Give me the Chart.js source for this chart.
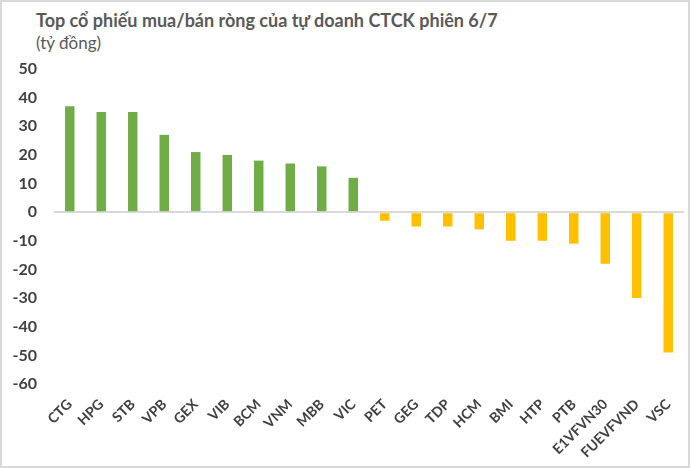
<!DOCTYPE html>
<html>
<head>
<meta charset="utf-8">
<script src="https://cdn.jsdelivr.net/npm/chart.js@4.4.1/dist/chart.umd.min.js"></script>
<style>
  html, body { margin: 0; padding: 0; background: #fff; }
  #wrap { position: relative; width: 690px; height: 468px; box-sizing: border-box; border: 2px solid #d9d9d9; overflow: hidden; }
  #title { position: absolute; left: 34px; top: 7px; font: bold 18px Lato, "Open Sans", sans-serif; color: #595959; white-space: nowrap; }
  #subtitle { position: absolute; left: 34px; top: 30px; font: 17px Lato, "Open Sans", sans-serif; color: #595959; white-space: nowrap; }
  #c { position: absolute; left: 0; top: 0; }
</style>
</head>
<body>
<div id="wrap">
  <div id="title">Top cổ phiếu mua/bán ròng của tự doanh CTCK phiên 6/7</div>
  <div id="subtitle">(tỷ đồng)</div>
  <canvas id="c" width="686" height="464"></canvas>
</div>
<script>
const categories = ["CTG","HPG","STB","VPB","GEX","VIB","BCM","VNM","MBB","VIC","PET","GEG","TDP","HCM","BMI","HTP","PTB","E1VFVN30","FUEVFVND","VSC"];
const values = [37, 35, 35, 27, 21, 20, 18, 17, 16, 12, -3, -5, -5, -6, -10, -10, -11, -18, -30, -49];
const yMin = -60, yMax = 50, yStep = 10;
const buyColor = "#70AD47";
const sellColor = "#FFC000";

new Chart(document.getElementById("c"), {
  type: "bar",
  data: {
    labels: categories,
    datasets: [{
      data: values,
      backgroundColor: values.map(v => v >= 0 ? buyColor : sellColor),
      barPercentage: 0.3,
      categoryPercentage: 1.0
    }]
  },
  options: {
    responsive: false,
    animation: false,
    devicePixelRatio: 1,
    layout: { padding: { top: 67, right: 4, bottom: 0, left: 0 } },
    plugins: { legend: { display: false }, tooltip: { enabled: false } },
    scales: {
      x: {
        grid: { display: false },
        border: { display: false },
        ticks: {
          autoSkip: false, maxRotation: 45, minRotation: 45,
          color: "#404040",
          font: { family: "Lato, 'Open Sans', sans-serif", size: 14, weight: "bold" },
          padding: 4
        },
        afterFit: s => { s.height = 82; }
      },
      y: {
        min: yMin, max: yMax,
        border: { display: false },
        grid: {
          drawTicks: false,
          lineWidth: 2,
          color: c => (c.tick && c.tick.value === 0) ? "#d9d9d9" : "rgba(0,0,0,0)"
        },
        ticks: {
          stepSize: yStep,
          color: "#404040",
          padding: 17,
          font: { family: "Lato, 'Open Sans', sans-serif", size: 16, weight: "bold" }
        },
        afterFit: s => { s.width = 52; }
      }
    }
  }
});
</script>
</body>
</html>
